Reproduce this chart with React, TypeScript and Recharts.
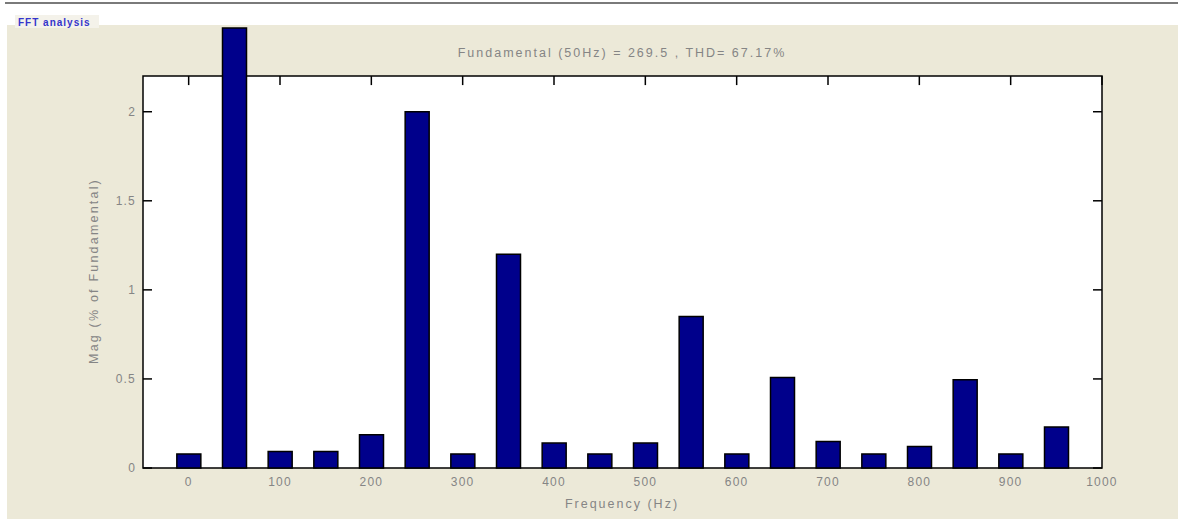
import React from 'react';
import { ComposedChart, Bar, XAxis, YAxis, ReferenceArea, ReferenceLine } from 'recharts';

const freqs = [0, 50, 100, 150, 200, 250, 300, 350, 400, 450, 500, 550, 600, 650, 700, 750, 800, 850, 900, 950];
const mags = [0.079, 2.47, 0.093, 0.093, 0.187, 2.0, 0.079, 1.2, 0.14, 0.079, 0.14, 0.85, 0.079, 0.508, 0.149, 0.079, 0.121, 0.495, 0.079, 0.23];
const xTicks = [0, 100, 200, 300, 400, 500, 600, 700, 800, 900, 1000];
const yTicks = [0, 0.5, 1, 1.5, 2];
const xDomain = [-50, 1000];
const boxTop = 2.2;
const yDomainTop = 2.4675;
const windowTitle = 'FFT analysis';
const chartTitle = 'Fundamental (50Hz) = 269.5 , THD= 67.17%';
const xLabel = 'Frequency (Hz)';
const yLabel = 'Mag (% of Fundamental)';

const data = freqs.map((f, i) => ({ f, mag: mags[i] }));

const TEXT = '#858585';
const FONT = '"Liberation Sans", Arial, sans-serif';

const YTick = (props: any) => {
  const { x, y, payload } = props;
  return (
    <g>
      <line x1={x} x2={x + 9} y1={y} y2={y} stroke="#000" strokeWidth={1.5} />
      <text x={x - 7} y={y} dy={4} textAnchor="end" fill={TEXT} fontSize={12} fontFamily={FONT} letterSpacing={1.2}>
        {payload.value}
      </text>
    </g>
  );
};

const XTick = (props: any) => {
  const { x, y, payload } = props;
  return (
    <g>
      <text x={x} y={y + 18} textAnchor="middle" fill={TEXT} fontSize={12} fontFamily={FONT} letterSpacing={1.2}>
        {payload.value}
      </text>
    </g>
  );
};

export default function App() {
  const topTickLen = 9 / 178.3;
  const rightTickLen = 9 / 0.9128;
  return (
    <div style={{ position: 'absolute', left: 0, top: 0, width: 1178, height: 519, background: '#fff', overflow: 'hidden' }}>
      <svg width={1178} height={519} style={{ position: 'absolute', left: 0, top: 0 }}>
        <rect x={5} y={2} width={1173} height={2} fill="#7a7a7a" />
        <rect x={7} y={25} width={1171} height={494} fill="#ECE9D8" />
        <rect x={15} y={15} width={84} height={13} fill="#F4F2EA" />
        <text x={18} y={26} fill="#3535cc" fontSize={10} fontWeight="bold" fontFamily={FONT} letterSpacing={1}>
          {windowTitle}
        </text>
        <text x={622} y={57} textAnchor="middle" fill={TEXT} fontSize={12.5} fontFamily={FONT} letterSpacing={2}>
          {chartTitle}
        </text>
        <text x={622} y={508} textAnchor="middle" fill={TEXT} fontSize={12.5} fontFamily={FONT} letterSpacing={2}>
          {xLabel}
        </text>
        <text x={98} y={271} textAnchor="middle" fill={TEXT} fontSize={12.5} fontFamily={FONT} letterSpacing={2.2} transform="rotate(-90 98 271)">
          {yLabel}
        </text>
      </svg>
      <div style={{ position: 'absolute', left: 0, top: 0 }}>
        <ComposedChart width={1178} height={519} data={data} margin={{ top: 28, right: 76, bottom: 21, left: 83 }}>
          <XAxis
            dataKey="f"
            type="number"
            domain={xDomain}
            ticks={xTicks}
            axisLine={false}
            tickLine={false}
            tickSize={0}
            tickMargin={0}
            height={30}
            interval={0}
            tick={<XTick />}
          />
          <YAxis
            type="number"
            domain={[0, yDomainTop]}
            ticks={yTicks}
            axisLine={false}
            tickLine={false}
            tickSize={0}
            tickMargin={0}
            width={60}
            interval={0}
            tick={<YTick />}
          />
          <ReferenceArea x1={xDomain[0]} x2={xDomain[1]} y1={0} y2={boxTop} fill="#fff" fillOpacity={1} stroke="#000" strokeWidth={1.5} />
          {xTicks.map((t) => (
            <ReferenceLine key={'tt' + t} segment={[{ x: t, y: boxTop }, { x: t, y: boxTop - topTickLen }]} stroke="#000" strokeWidth={1.5} />
          ))}
          {yTicks.map((t) => (
            <ReferenceLine key={'rt' + t} segment={[{ x: xDomain[1], y: t }, { x: xDomain[1] - rightTickLen, y: t }]} stroke="#000" strokeWidth={1.5} />
          ))}
          <Bar dataKey="mag" barSize={24} fill="#00008B" stroke="#000" strokeWidth={1.5} isAnimationActive={false} />
        </ComposedChart>
      </div>
    </div>
  );
}
